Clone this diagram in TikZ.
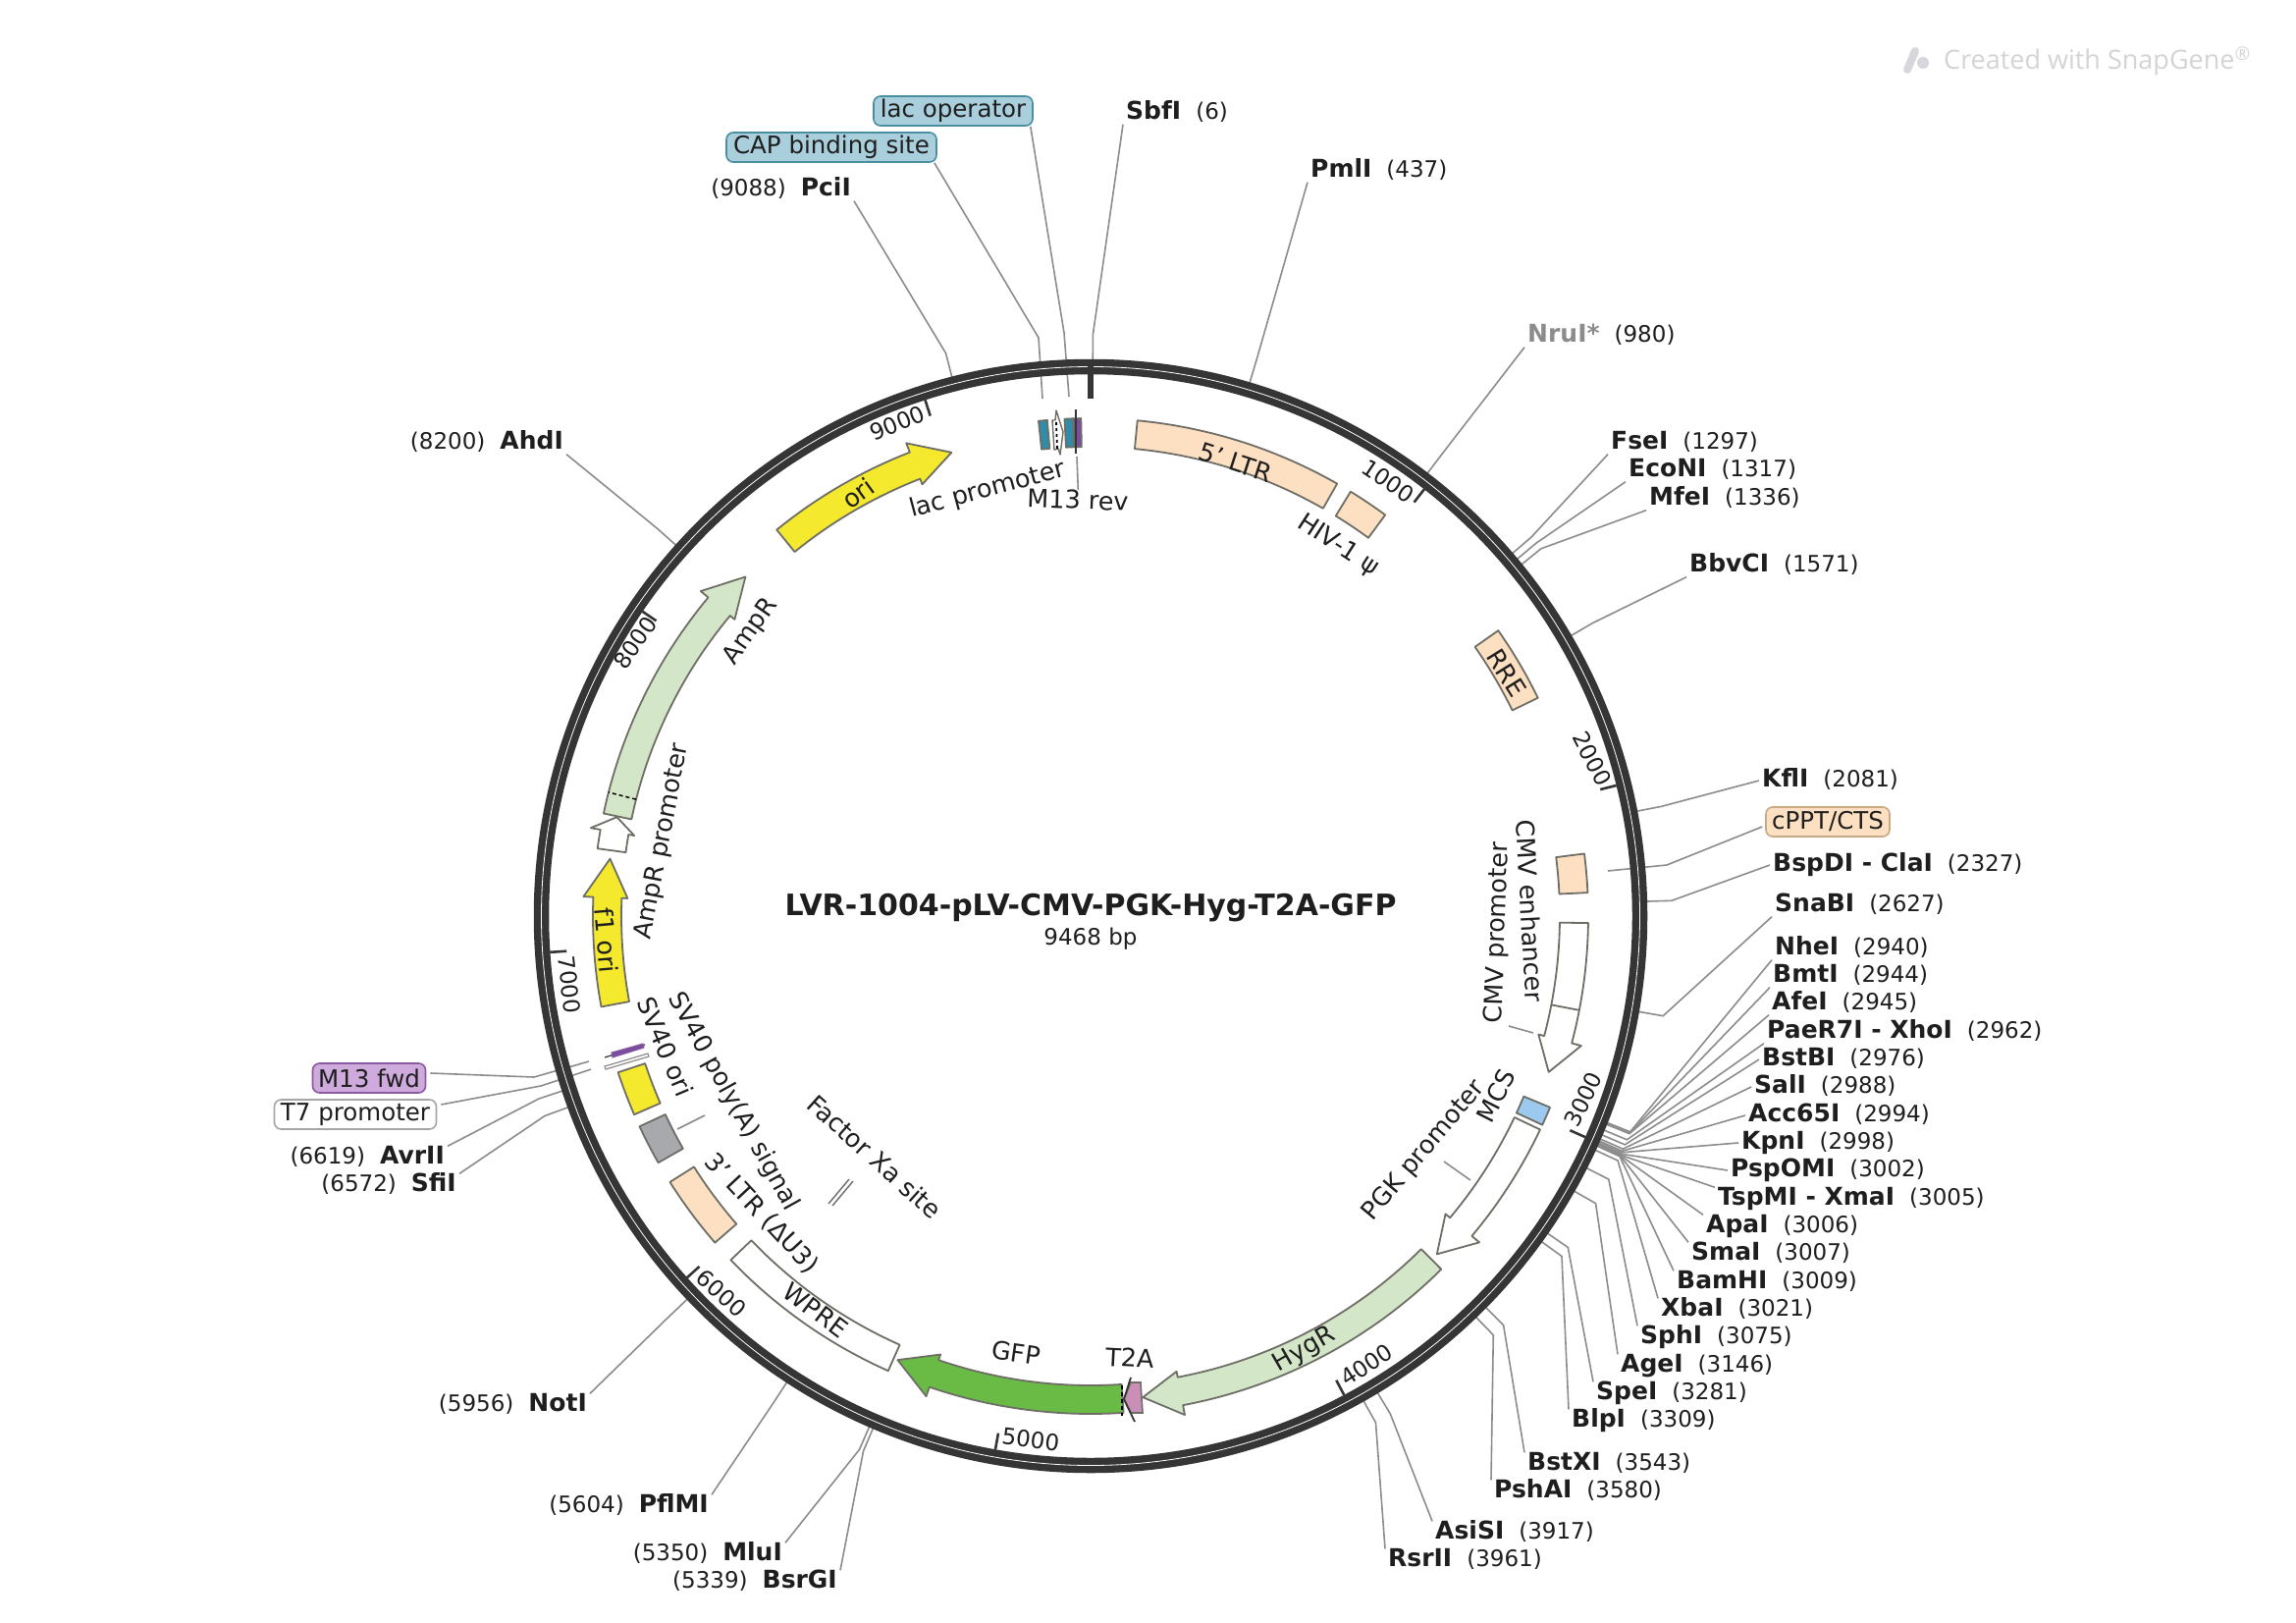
\documentclass[tikz,border=0pt]{standalone}
\usepackage{fontspec}
\setmainfont{DejaVu Sans}
\newfontfamily\wmfont{Open Sans}
\definecolor{ringc}{HTML}{353535}
\definecolor{leadc}{HTML}{8C8C8C}
\definecolor{edgec}{HTML}{6E6E66}
\definecolor{txtc}{HTML}{1E1E1E}
\definecolor{yel}{HTML}{F4E92C}
\definecolor{peach}{HTML}{FDDFC2}
\definecolor{lgreen}{HTML}{D3E6C8}
\definecolor{dgreen}{HTML}{6ABB46}
\definecolor{greyf}{HTML}{A7A9AC}
\definecolor{bluef}{HTML}{9CC9EE}
\definecolor{teal1}{HTML}{2F8DA8}
\definecolor{purp}{HTML}{7B4D9E}
\definecolor{pink1}{HTML}{C98FB6}
\definecolor{lacbox}{HTML}{A9CFDC}
\definecolor{lacedge}{HTML}{4A8FA0}
\definecolor{m13box}{HTML}{CFABDD}
\definecolor{m13edge}{HTML}{8A5AA0}
\definecolor{cppedge}{HTML}{C9A984}
\tikzset{
  x=1pt,y=-1pt,
  enz/.style={inner xsep=3pt,inner ysep=0pt,text height=18pt,text depth=5pt,font=\fontsize{23}{26}\selectfont,text=txtc},
  lab/.style={inner sep=0pt,font=\fontsize{25.5}{28}\selectfont,text=txtc},
  tick/.style={inner sep=0pt,font=\fontsize{23}{26}\selectfont,text=txtc},
  lead/.style={draw=leadc,line width=1.6pt},
  feat/.style={draw=edgec,line width=1.8pt,line join=round},
  tag/.style={rounded corners=7pt,line width=1.6pt,inner sep=0pt,font=\fontsize{24.5}{27}\selectfont,text=txtc,minimum height=30pt},
  ticku/.style={draw=ringc,line width=2.6pt}
}
\newcommand\Lead[2]{\draw[lead] (#2) -- ({1111+592*sin(0.038023*#1)},{933-592*cos(0.038023*#1)}) -- ({1111+560*sin(0.038023*#1)},{933-560*cos(0.038023*#1)});}
\newcommand\Band[3]{\draw[feat,#3] plot[domain=#1:#2,samples=40] ({1111+507*sin(\x)},{933-507*cos(\x)}) -- plot[domain=#2:#1,samples=40] ({1111+478*sin(\x)},{933-478*cos(\x)}) -- cycle;}
\newcommand\Arw[4]{\draw[feat,#4] plot[domain=#1:#2,samples=40] ({1111+507*sin(\x)},{933-507*cos(\x)}) -- ({1111+517*sin(#2)},{933-517*cos(#2)}) -- ({1111+493*sin(#3)},{933-493*cos(#3)}) -- ({1111+472*sin(#2)},{933-472*cos(#2)}) -- plot[domain=#2:#1,samples=40] ({1111+478*sin(\x)},{933-478*cos(\x)}) -- cycle;}
\newcommand\Tk[1]{\draw[ticku] ({1111+552*sin(0.038023*#1)},{933-552*cos(0.038023*#1)}) -- ({1111+535*sin(0.038023*#1)},{933-535*cos(0.038023*#1)});}
\newcommand\Nm[1]{\textbf{\fontsize{25}{26}\selectfont #1}}
% id, x, y, name, number, bp, attach anchor
\newcommand\EnzR[7]{\node[enz,anchor=west] (#1) at (#2,{#3+2}) {\Nm{#4}\hspace{15pt}(#5)}; \Lead{#6}{#1.#7}}
\newcommand\EnzL[7]{\node[enz,anchor=east] (#1) at (#2,{#3+2}) {(#5)\hspace{15pt}\Nm{#4}}; \Lead{#6}{#1.#7}}
\begin{document}
\begin{tikzpicture}
\useasboundingbox (0,0) rectangle (2339,1653);
\fill[white] (0,0) rectangle (2339,1653);
% watermark
\draw[line width=8pt,color=blue!8!gray!30,line cap=round] (1951,52) -- (1943,71);
\fill[color=blue!8!gray!30] (1959,64) circle[radius=6pt];
\node[anchor=west,inner sep=0pt,text=black!17,font=\wmfont\fontsize{27}{30}\selectfont] (wm) at (1980,62) {Created with SnapGene\textsuperscript{®}};
% enzyme labels and leaders
\EnzR{sbf}{1144}{113}{SbfI}{6}{6}{south west}
\EnzR{pml}{1332}{172}{PmlI}{437}{437}{south west}
\node[enz,anchor=west] (nru) at (1553,342) {\textcolor{black!45}{\Nm{NruI*}}\hspace{15pt}(980)}; \Lead{980}{nru.south west}
\EnzR{fse}{1638}{449}{FseI}{1297}{1297}{south west}
\EnzR{eco}{1656}{477}{EcoNI}{1317}{1317}{south west}
\EnzR{mfe}{1677}{506}{MfeI}{1336}{1336}{south west}
\EnzR{bbv}{1718}{574}{BbvCI}{1571}{1571}{south west}
\EnzR{kfl}{1792}{793}{KflI}{2081}{2081}{west}
\EnzR{bsp}{1803}{879}{BspDI - ClaI}{2327}{2327}{west}
\EnzR{sna}{1805}{920}{SnaBI}{2627}{2627}{south west}
\EnzR{nhe}{1805}{964}{NheI}{2940}{2940}{south west}
\EnzR{bmt}{1803}{992}{BmtI}{2944}{2944}{south west}
\EnzR{afe}{1802}{1020}{AfeI}{2945}{2945}{south west}
\EnzR{pae}{1797}{1049}{PaeR7I - XhoI}{2962}{2962}{south west}
\EnzR{bst}{1792}{1077}{BstBI}{2976}{2976}{west}
\EnzR{sal}{1784}{1105}{SalI}{2988}{2988}{west}
\EnzR{acc}{1778}{1134}{Acc65I}{2994}{2994}{west}
\EnzR{kpn}{1771}{1162}{KpnI}{2998}{2998}{west}
\EnzR{psp}{1760}{1190}{PspOMI}{3002}{3002}{west}
\EnzR{tsp}{1747}{1219}{TspMI - XmaI}{3005}{3005}{north west}
\EnzR{apa}{1735}{1247}{ApaI}{3006}{3006}{north west}
\EnzR{sma}{1720}{1275}{SmaI}{3007}{3007}{north west}
\EnzR{bam}{1705}{1304}{BamHI}{3009}{3009}{north west}
\EnzR{xba}{1689}{1332}{XbaI}{3021}{3021}{north west}
\EnzR{sph}{1668}{1360}{SphI}{3075}{3075}{north west}
\EnzR{age}{1648}{1389}{AgeI}{3146}{3146}{north west}
\EnzR{spe}{1623}{1417}{SpeI}{3281}{3281}{north west}
\EnzR{blp}{1598}{1445}{BlpI}{3309}{3309}{north west}
\EnzR{bstx}{1553}{1489}{BstXI}{3543}{3543}{north west}
\EnzR{psh}{1519}{1517}{PshAI}{3580}{3580}{north west}
\EnzR{asi}{1459}{1559}{AsiSI}{3917}{3917}{north west}
\EnzR{rsr}{1411}{1587}{RsrII}{3961}{3961}{north west}
\EnzL{pci}{870}{191}{PciI}{9088}{9088}{south east}
\EnzL{ahd}{577}{449}{AhdI}{8200}{8200}{south east}
\EnzL{avr}{456}{1177}{AvrII}{6619}{6619}{north east}
\EnzL{sfi}{468}{1205}{SfiI}{6572}{6572}{north east}
\EnzL{not}{601}{1429}{NotI}{5956}{5956}{north east}
\EnzL{pfl}{725}{1532}{PflMI}{5604}{5604}{north east}
\EnzL{mlu}{800}{1581}{MluI}{5350}{5350}{north east}
\EnzL{bsr}{856}{1609}{BsrGI}{5339}{5339}{north east}
% feature tags and their leaders
\node[tag,draw=lacedge,fill=lacbox,minimum width=162pt] (lacop) at (971,113) {lac operator};
\node[tag,draw=lacedge,fill=lacbox,minimum width=214pt] (cap) at (847,150) {CAP binding site};
\node[tag,draw=cppedge,fill=peach,minimum width=126pt] (cppt) at (1862,837) {cPPT/CTS};
\node[tag,draw=m13edge,fill=m13box,minimum width=115pt] (m13f) at (376,1098) {M13 fwd};
\node[tag,draw=black!35,fill=white,minimum width=165pt] (t7) at (362,1135) {T7 promoter};
\coordinate (capin) at (1062,406);
\coordinate (lacin) at (1089,404);
\coordinate (cppin) at (1638,887);
\coordinate (m13in) at (600,1081);
\coordinate (t7in) at (602,1089);
\draw[lead] (cap.south east) ++(-3,0) -- (1058,344) -- (capin);
\draw[lead] (lacop.south east) ++(-3,0) -- (1084,339) -- (lacin);
\draw[lead] (cppt.west) ++(-3,5) -- (1698,881) -- (cppin);
\draw[lead] (m13f.east) ++(4,-5) -- (544,1097) -- (m13in);
\draw[lead] (t7.east) ++(4,-10) -- (551,1106) -- (t7in);
% ring
\draw[color=ringc,line width=15.5pt] (1111,933) circle[radius=559.5pt];
\draw[white,line width=0.8pt] (1111,933) circle[radius=559.5pt];
\draw[color=ringc,line width=6pt] (1111,368) -- (1111,406);
\foreach \b in {1000,2000,3000,4000,5000,6000,7000,8000,9000}{\Tk{\b}}
% tick labels
\node[tick,rotate=-34] (t1) at (1414,490) {1000};
\node[tick,rotate=-63] (t2) at (1622,773) {2000};
\node[tick,rotate=64] (t3) at (1613,1120) {3000};
\node[tick,rotate=33] (t4) at (1392,1390) {4000};
\node[tick,rotate=-7] (t5) at (1050,1466) {5000};
\node[tick,rotate=-42] (t6) at (735,1317) {6000};
\node[tick,rotate=-84] (t7k) at (580,1003) {7000};
\node[tick,rotate=55] (t8) at (647,655) {8000};
\node[tick,rotate=22] (t9) at (914,431) {9000};
% features
\Band{5.4}{29.7}{fill=peach}
\Band{31.5}{36.3}{fill=peach}
\Band{55}{64}{fill=peach}
\Band{82.8}{87.3}{fill=peach}
\Band{112.6}{114.8}{fill=bluef}
\Arw{90.8}{104.8}{108.8}{fill=white}
\draw[feat] ({1111+478*sin(100.9)},{933-478*cos(100.9)}) -- ({1111+507*sin(100.9)},{933-507*cos(100.9)});
\Arw{115.4}{130}{134.3}{fill=white}
\Arw{135.2}{169.3}{173.8}{fill=lgreen}
\Arw{176.2}{198.9}{203.5}{fill=dgreen}
\Band{204}{226.3}{fill=white}
\Band{229}{237.7}{fill=peach}
\Band{240.3}{245}{fill=greyf}
\Band{246.5}{251.7}{fill=yel}
\Arw{259.5}{272.2}{276.8}{fill=yel}
\Arw{277.8}{280}{281.8}{fill=white}
\Arw{281.9}{309.8}{314.5}{fill=lgreen}
\draw[black,line width=1.5pt,dash pattern=on 4pt off 3pt] ({1111+478*sin(284.4)},{933-478*cos(284.4)}) -- ({1111+507*sin(284.4)},{933-507*cos(284.4)});
\Arw{320.9}{338.7}{343.3}{fill=yel}
% T2A
\draw[black,line width=2pt,dash pattern=on 4pt off 3pt] (1143,1411) -- (1143,1442);
\draw[draw=edgec,fill=pink1,line width=1.6pt] (1145,1425) -- (1152,1408) -- (1162,1408) -- (1164,1439) -- (1152,1439) -- cycle;
\draw[color=ringc,line width=1.8pt] (1152,1403) -- (1145,1425) -- (1156,1448);
% lac region
\Band{354}{355}{fill=teal1}
\draw[feat,fill=white,line width=1.4pt] (1072,428) -- (1075,428) -- (1076,418) -- (1083,440) -- (1080,463) -- (1078,457) -- (1074,458) -- cycle;
\draw[black,line width=1.8pt,dash pattern=on 3pt off 3pt] (1076,430) -- (1077,458);
\Band{357}{358}{fill=teal1}
\Band{358}{358.9}{fill=purp}
\draw[color=ringc,line width=1.6pt] (1096,417) -- (1096,462);
\coordinate (m13rtop) at (1097,465);
% M13 fwd / T7 small features
\draw[draw=black!45,fill=white,line width=1.2pt] (616,1086) -- (660,1073) -- (661,1076) -- (617,1089) -- cycle;
\draw[color=ringc,line width=1.2pt] (616,1077) -- (657,1064);
\draw[draw=m13edge,fill=purp,line width=1pt] (623,1072) -- (655,1063) -- (656,1067) -- (624,1077) -- cycle;
% Factor Xa
\draw[draw=black!55,line width=1.5pt] (865,1201) -- (844,1226);
\draw[draw=black!55,line width=1.5pt] (869,1203) -- (848,1228);
% feature labels
\node[lab,rotate=-18] (l5ltr) at (1259,471) {5' LTR};
\node[lab,rotate=-33] (lhiv) at (1363,556) {HIV-1 ψ};
\node[lab,rotate=-58] (lrre) at (1535,685) {RRE};
\node[lab,rotate=-87] (lenh) at (1559,928) {CMV enhancer};
\node[lab,rotate=88] (lcmvp) at (1526,950) {CMV promoter};
\node[lab,rotate=63] (lmcs) at (1524,1116) {MCS};
\node[lab,rotate=50] (lpgk) at (1451,1172) {PGK promoter};
\node[lab,rotate=30] (lhyg) at (1329,1375) {HygR};
\node[lab,rotate=-3] (lt2a) at (1151,1383) {T2A};
\node[lab,rotate=-8] (lgfp) at (1035,1378) {GFP};
\node[lab,rotate=-37] (lwpre) at (831,1334) {WPRE};
\node[lab,rotate=-47] (l3ltr) at (776,1236) {3' LTR (ΔU3)};
\node[lab,rotate=-61] (lpa) at (747,1122) {SV40 poly(A) signal};
\node[lab,rotate=-67] (lsvo) at (678,1066) {SV40 ori};
\node[lab,rotate=-42] (lfxa) at (891,1178) {Factor Xa site};
\node[lab,rotate=-85] (lf1) at (618,958) {f1 ori};
\node[lab,rotate=79] (lamppr) at (675,857) {AmpR promoter};
\node[lab,rotate=55] (lamp) at (765,643) {AmpR};
\node[lab,rotate=36] (lori) at (874,502) {ori};
\node[lab,rotate=15] (llacp) at (1006,499) {lac promoter};
\node[lab,rotate=-2] (lm13r) at (1098,509) {M13 rev};
% short leaders from features to labels
\draw[lead] (m13rtop) -- (lm13r.north);
\draw[lead] (1537,1045) -- (1562,1052);
\draw[lead] (1471,1183) -- (1498,1202);
\draw[lead] (690,1150) -- (718,1136);
% title
\node[inner sep=0pt,font=\fontsize{30}{33}\selectfont\bfseries,text=txtc] (title) at (1111,925) {LVR-1004-pLV-CMV-PGK-Hyg-T2A-GFP};
\node[inner sep=0pt,font=\fontsize{23}{26}\selectfont,text=txtc] (size) at (1111,956) {9468 bp};
\end{tikzpicture}
\end{document}
